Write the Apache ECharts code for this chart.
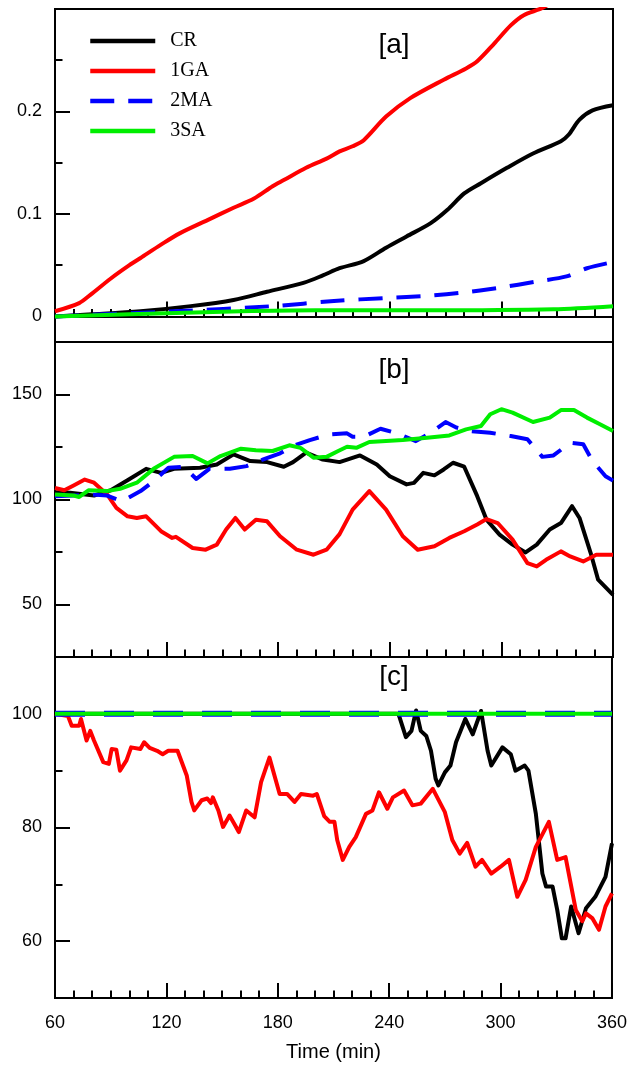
<!DOCTYPE html>
<html>
<head>
<meta charset="utf-8">
<script src="https://cdn.jsdelivr.net/npm/echarts@6/dist/echarts.min.js"></script>
<style>html,body{margin:0;padding:0;background:#fff}#c{width:630px;height:1066px}</style>
</head>
<body>
<div id="c"></div>
<script>
// ---------- data (time in min, value) ----------
const seriesNames = ['CR', '1GA', '2MA', '3SA'];
const xTicks = [60, 120, 180, 240, 300, 360];

// panel [a]
const aCR = [[60,0],[80,0.002],[106,0.005],[133,0.010],[156,0.016],[174,0.024],[194,0.033],[204,0.040],[213,0.047],[226,0.054],[238,0.067],[249,0.078],[262,0.091],[271,0.104],[280,0.120],[289,0.130],[303,0.145],[317,0.159],[332,0.171],[336,0.177],[342,0.192],[349,0.201],[360,0.206]];
const aGA = [[60,0.005],[73,0.013],[79,0.021],[90,0.037],[100,0.050],[106,0.057],[117,0.070],[127,0.081],[142,0.094],[156,0.106],[167,0.115],[177,0.127],[183,0.133],[195,0.145],[206,0.154],[213,0.161],[220,0.166],[226,0.172],[238,0.195],[251,0.213],[269,0.231],[281,0.242],[287,0.249],[296,0.266],[305,0.284],[312,0.294],[322,0.301],[330,0.31]];
const aMA = [[60,0],[124,0.005],[177,0.010],[210,0.015],[238,0.018],[260,0.020],[278,0.023],[299,0.028],[319,0.034],[335,0.039],[346,0.047],[360,0.053]];
const aSA = [[60,0],[100,0.002],[160,0.005],[200,0.006],[260,0.006],[328,0.007],[360,0.010]];
const aLabels = [0, 0.1, 0.2];
const aMinor = [0.05, 0.15, 0.25];

// panel [b]
const bCR = [[60,103.5],[68,103.2],[81,101.9],[90,104.4],[99,109.2],[109,114.6],[117,112.7],[124,114.6],[138,115.1],[147,116.7],[156,121.5],[165,118.3],[174,117.8],[183,115.6],[188,117.8],[195,122.3],[204,119],[213,117.8],[224,121],[233,116.7],[240,111.1],[249,107.2],[253,107.9],[258,112.7],[264,111.5],[269,114.3],[274,117.5],[280,115.6],[287,101.6],[292,90.4],[299,83.3],[306,78.5],[313,74.8],[319,78.5],[326,85.7],[332,88.8],[338,96.8],[342,91.2],[348,74.5],[352,61.8],[360,54.6]];
const bGA = [[60,105.5],[65,104.4],[70,106.7],[76,109.5],[81,108],[88,102.4],[93,96],[99,92],[104,91.2],[109,92],[117,84.9],[123,81.7],[125,82.2],[134,76.9],[141,76.1],[147,78.5],[152,85.7],[157,91.2],[162,85.7],[168,90.4],[174,89.6],[181,82.5],[190,76.1],[199,73.7],[206,76.1],[213,83.5],[220,95.2],[229,104],[238,95.2],[247,82.5],[255,76.1],[264,77.7],[272,81.7],[280,84.9],[287,88.1],[292,90.7],[298,88.8],[306,80.9],[314,69.7],[319,68.1],[324,71.3],[332,75.3],[337,72.9],[344,70.5],[351,73.7],[360,73.7]];
const bMA = [[60,101.6],[70,101.9],[79,102.4],[88,101.9],[96,99.2],[106,104],[113,108.7],[121,115.1],[129,115.6],[136,109.8],[143,114.6],[154,114.6],[163,115.9],[172,119.1],[181,122],[188,125.5],[197,128.3],[207,130.9],[217,131.5],[220,129.9],[226,129.9],[235,133.7],[244,131.5],[254,127.8],[262,131.8],[270,136.9],[276,134.2],[283,132.6],[294,131.8],[305,130.2],[314,128.7],[322,120.3],[328,121],[337,127],[344,126.3],[349,118.3],[356,111.1],[360,109]];
const bSA = [[60,102.4],[70,101.9],[73,101.2],[78,104.4],[88,104],[95,105.1],[104,108],[113,114.6],[124,120.3],[134,120.7],[142,117.2],[149,120.7],[160,124.2],[168,123.5],[177,123.1],[186,125.8],[192,124.6],[199,119.9],[206,120.3],[212,123],[217,125.1],[222,124.6],[229,127.4],[247,128.3],[260,129.4],[272,130.5],[281,133.4],[289,135],[294,140.6],[300,143],[306,141.4],[317,136.9],[326,139],[332,142.6],[339,142.6],[346,139],[353,135.8],[360,132.6]];
const bLabels = [50, 100, 150];
const bMinor = [75, 125];

// panel [c]
const cCR = [[60,100],[245,100],[249,95.9],[252,97],[254.5,100.6],[257,97],[260,96.1],[262.5,93.5],[265,88.6],[266.5,87.4],[270,89.7],[273,90.9],[276,95],[281,99.1],[285,96.4],[289.5,100.5],[293,93.5],[295,90.9],[301,94.1],[305.5,92.9],[308,90],[313,90.9],[315,90],[319,82.4],[322.5,71.9],[324.5,69.6],[328,69.6],[330.5,65.5],[333,60.5],[335,60.5],[338,66.1],[342,61.4],[346,65.8],[351,67.8],[356.5,71.3],[360,77.2]];
const cGA = [[60,100],[67,99.6],[69,97.9],[73,97.9],[74,99.1],[77,95.3],[79,97],[81,95.3],[82,95],[86,91.5],[89,91.2],[90.5,93.8],[93,93.7],[95,90],[98.5,91.8],[101,94.1],[106,93.8],[108,95],[111,94],[115,93.5],[118,92.9],[121,93.5],[126,93.5],[131,89.1],[133.5,84.5],[135,83],[139,84.8],[142,85.1],[144,84.3],[145,85.3],[148,83],[150.5,80.1],[154,82.1],[157,80.4],[159,79.2],[163,83],[167.5,81.8],[171,88],[175.5,92.3],[181,85.9],[185,85.9],[189,84.5],[192.5,85.9],[199,85.6],[201,85.9],[205,82],[208,81],[210.5,81],[212,77.8],[215,74.3],[218.5,76.6],[222,78.3],[227.5,82.4],[231,83],[234.5,86.2],[239,83.3],[242,85.3],[248,86.5],[252.5,83.9],[257,84.2],[263.5,86.8],[270,82.7],[274,77.8],[278,75.4],[282,77.3],[286.5,73.1],[290,74.3],[295,71.9],[300,73.1],[304.5,74.3],[309,67.8],[313.5,70.8],[319,76.6],[326,81],[330.5,74.3],[335,74.8],[340.5,65.5],[344,63.5],[346,64.9],[349.5,64],[353,62],[356.5,66.1],[360,68.4]];
const cMA = [[60,100],[360,100]];
const cSA = [[60,100],[360,100]];
const cLabels = [60, 80, 100];
const cMinor = [70, 90];

// ---------- styling ----------
const COL = {CR:'#000000', '1GA':'#ff0000', '2MA':'#0000ff', '3SA':'#00ee00'};
const SANS = 'Liberation Sans, Arial, sans-serif';
const SERIF = 'Liberation Serif, Times New Roman, serif';

const grids = [
  {left:55, right:17, top:9, height:333},
  {left:55, right:17, top:342, height:315},
  {left:55, right:17, top:657, height:341}
].map(g => Object.assign(g, {show:true, borderColor:'#000', borderWidth:2, backgroundColor:'transparent', containLabel:false}));

function xAxis(i, showLabels) {
  return {
    type:'value', gridIndex:i, min:60, max:360, interval:60,
    axisLine:{show:true, lineStyle:{color:'#000', width:2}},
    axisTick:{show:true, inside:true, length:15, lineStyle:{color:'#000', width:2}},
    minorTick:{show:true, splitNumber:6, length:7.5, lineStyle:{color:'#000', width:2}},
    splitLine:{show:false}, minorSplitLine:{show:false},
    axisLabel:{show:showLabels, color:'#000', fontSize:18, fontFamily:SANS, margin:16,
      customValues: xTicks},
    name: showLabels ? 'Time (min)' : '', nameLocation:'middle', nameGap:44,
    nameTextStyle:{color:'#000', fontSize:20, fontFamily:SANS}
  };
}
function yMain(i, min, max, labels) {
  return {
    type:'value', gridIndex:i, min:min, max:max, position:'left',
    axisLine:{show:true, lineStyle:{color:'#000', width:2}},
    axisTick:{show:true, inside:true, length:15, customValues:labels, lineStyle:{color:'#000', width:2}},
    axisLabel:{show:true, color:'#000', fontSize:18, fontFamily:SANS, margin:13, customValues:labels},
    splitLine:{show:false}
  };
}
function yMinor(i, min, max, minors) {
  return {
    type:'value', gridIndex:i, min:min, max:max, position:'left',
    axisLine:{show:false},
    axisTick:{show:true, inside:true, length:7.5, customValues:minors, lineStyle:{color:'#000', width:2}},
    axisLabel:{show:false},
    splitLine:{show:false}
  };
}

function line(name, data, xi, yi, opts) {
  opts = opts || {};
  return {
    name:name, type:'line', xAxisIndex:xi, yAxisIndex:yi, data:data,
    symbol:'none', showSymbol:false, clip:true, smooth: opts.smooth || false,
    lineStyle:{color:COL[name], width: opts.width || 4, type: opts.dash || 'solid', join:'round', cap:'butt'},
    itemStyle:{color:COL[name]},
    z: opts.z || 2
  };
}

const dashA = [24, 14];
const series = [
  line('CR', aCR, 0, 0, {smooth:0.3}),
  line('1GA', aGA, 0, 0, {smooth:0.3}),
  line('2MA', aMA, 0, 0, {smooth:0.3, dash:dashA}),
  line('3SA', aSA, 0, 0, {smooth:0.3}),
  line('CR', bCR, 1, 2),
  line('1GA', bGA, 1, 2),
  line('2MA', bMA, 1, 2, {dash:dashA}),
  line('3SA', bSA, 1, 2),
  line('CR', cCR, 2, 4),
  line('1GA', cGA, 2, 4),
  line('2MA', cMA, 2, 4, {dash:[30, 19], width:6}),
  line('3SA', cSA, 2, 4, {width:4})
];

const chart = echarts.init(document.getElementById('c'), null, {renderer:'canvas'});
chart.setOption({
  animation:false,
  backgroundColor:'#fff',
  grid: grids,
  xAxis: [xAxis(0, false), xAxis(1, false), xAxis(2, true)],
  yAxis: [
    yMain(0, -0.025, 0.3, aLabels), yMinor(0, -0.025, 0.3, aMinor),
    yMain(1, 25, 175, bLabels), yMinor(1, 25, 175, bMinor),
    yMain(2, 50, 110, cLabels), yMinor(2, 50, 110, cMinor)
  ],
  legend: {
    data: seriesNames, orient:'vertical', left:88, top:31, padding:0,
    itemWidth:65, itemHeight:14, itemGap:10, selectedMode:false,
    itemStyle:{opacity:0},
    lineStyle:{width:4.5},
    textStyle:{color:'#000', fontSize:20, fontFamily:SERIF, lineHeight:20, padding:[0,0,0,10]}
  },
  graphic: [
    {type:'text', style:{text:'[a]', fill:'#000', font:'28px ' + SANS, x:394, y:45, align:'center', verticalAlign:'middle'}},
    {type:'text', style:{text:'[b]', fill:'#000', font:'28px ' + SANS, x:394, y:370, align:'center', verticalAlign:'middle'}},
    {type:'text', style:{text:'[c]', fill:'#000', font:'28px ' + SANS, x:394, y:677, align:'center', verticalAlign:'middle'}}
  ],
  series: series
});
</script>
</body>
</html>
